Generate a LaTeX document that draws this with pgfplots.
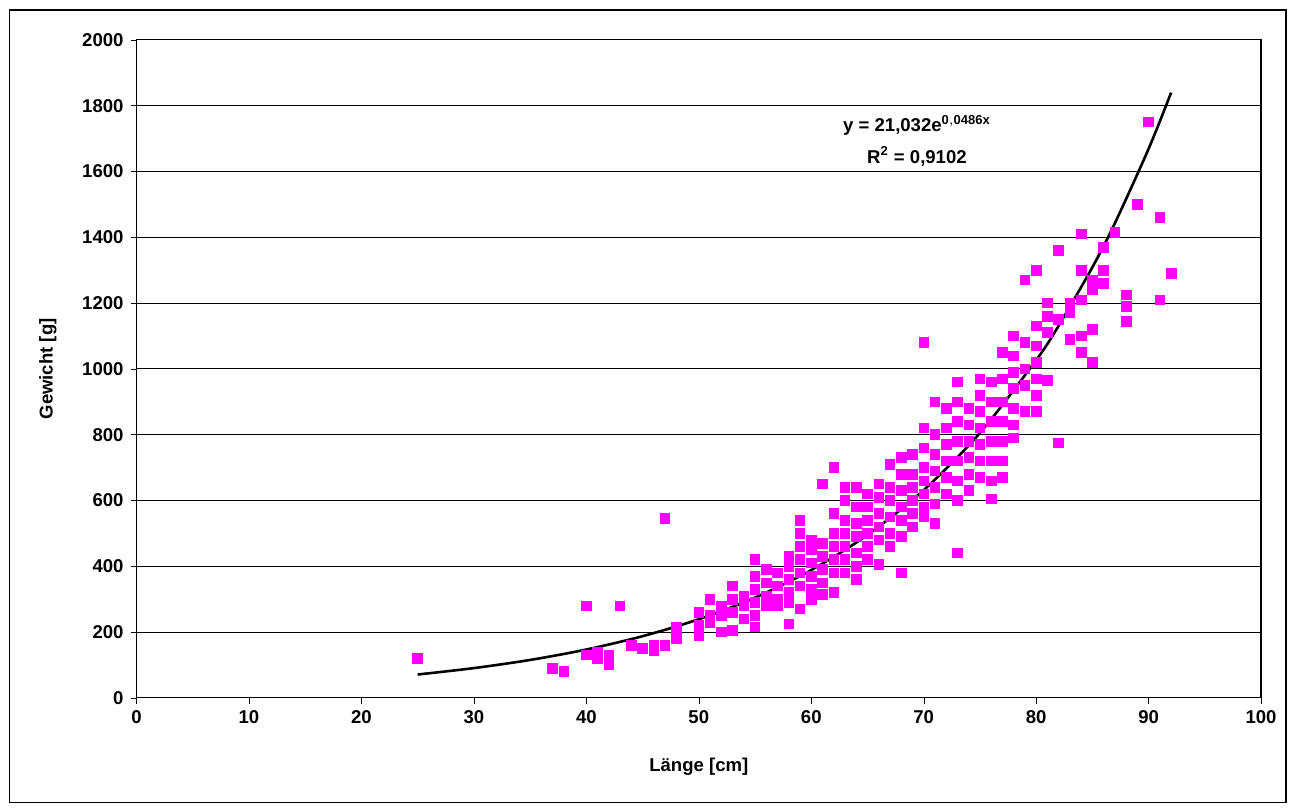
\documentclass[border=0pt]{standalone}
\usepackage{pgfplots}
\pgfplotsset{compat=1.18}
\usepackage{fontspec}
\setmainfont{Liberation Sans}
\definecolor{mag}{HTML}{FF00FF}
\begin{document}
\begin{tikzpicture}
\begin{axis}[
  scale only axis, width=564pt, height=330pt,
  xmin=0, xmax=100, ymin=0, ymax=2000,
  xtick={0,10,...,100}, ytick={0,200,...,2000},
  ymajorgrids, major grid style={black, line width=0.4pt},
  axis line style={black, line width=0.6pt},
  tick style={black}, tick align=outside, major tick length=3pt,
  xtick pos=bottom, ytick pos=left,
  ticklabel style={font=\fontsize{9.3}{11}\selectfont\bfseries},
  /pgf/number format/assume math mode=true,
  /pgf/number format/1000 sep={},
  xlabel={Länge [cm]}, ylabel={Gewicht [g]},
  label style={font=\fontsize{9.3}{11}\selectfont\bfseries},
  xlabel style={yshift=-10pt}, ylabel style={yshift=6pt},
  clip=false,
]
\path[use as bounding box] (rel axis cs:-0.1214,-0.1667) rectangle (rel axis cs:1.0284,1.0606);
\draw[black, line width=0.6pt] (rel axis cs:-0.1126,-0.159) rectangle (rel axis cs:1.0222,1.0455);
\addplot[only marks, mark=square*, mark size=2.4pt, mark options={fill=mag, draw=mag}] table {
25 120
37 90
38 80
40 280
40 130
41 140
41 120
42 130
42 100
43 280
44 160
45 150
46 160
46 145
47 545
47 160
48 215
48 180
48 200
50 260
50 190
50 220
51 300
51 250
51 230
52 280
52 200
52 250
53 340
53 300
53 260
53 205
54 310
54 280
54 240
55 420
55 370
55 330
55 290
55 250
55 215
56 390
56 350
56 310
56 280
57 380
57 340
57 300
57 280
58 430
58 400
58 360
58 320
58 290
58 225
59 540
59 500
59 460
59 420
59 380
59 340
59 270
60 480
60 450
60 410
60 370
60 330
60 300
61 650
61 470
61 430
61 390
61 350
61 315
62 700
62 560
62 500
62 460
62 420
62 380
62 320
63 640
63 600
63 540
63 500
63 460
63 420
63 380
64 640
64 580
64 530
64 490
64 440
64 400
64 360
65 620
65 580
65 540
65 500
65 460
65 420
66 650
66 610
66 560
66 520
66 480
66 405
67 710
67 640
67 600
67 550
67 500
67 460
68 730
68 680
68 630
68 580
68 540
68 490
68 380
69 740
69 680
69 640
69 600
69 560
69 520
70 1080
70 820
70 760
70 700
70 660
70 620
70 580
70 550
71 900
71 800
71 740
71 690
71 640
71 590
71 530
72 880
72 820
72 770
72 720
72 670
72 620
73 960
73 900
73 840
73 780
73 720
73 660
73 600
73 440
74 880
74 830
74 780
74 730
74 680
74 630
75 970
75 920
75 870
75 820
75 770
75 720
75 670
76 960
76 900
76 840
76 780
76 720
76 660
76 605
77 1050
77 970
77 900
77 840
77 780
77 720
77 670
78 1100
78 1040
78 990
78 940
78 880
78 830
78 790
79 1270
79 1080
79 1000
79 950
79 870
80 1300
80 1130
80 1070
80 1020
80 970
80 920
80 870
81 1200
81 1160
81 1110
81 965
82 1360
82 1150
82 775
83 1200
83 1170
83 1090
84 1410
84 1300
84 1210
84 1100
84 1050
85 1270
85 1240
85 1120
85 1020
86 1370
86 1300
86 1260
87 1415
88 1225
88 1190
88 1145
89 1500
90 1750
91 1460
91 1210
92 1290
};
\addplot[black, line width=1.3pt, smooth] coordinates {
(25,70.9) (30,90.4) (35,115.2) (40,146.9) (45,187.4) (50,238.9) (55,304.6) (60,388.4) (65,495.3) (70,631.5) (75,805.2) (80,1026.6) (82,1131) (85,1309) (87,1442.8) (90,1669) (92,1839.6)
};
\node[font=\fontsize{9.3}{11}\selectfont\bfseries] at (axis cs:69.4,1740) {y = 21,032e$^{\mathbf{0,0486x}}$};
\node[font=\fontsize{9.3}{11}\selectfont\bfseries] at (axis cs:69.4,1645) {R$^{\mathbf{2}}$ = 0,9102};
\end{axis}
\end{tikzpicture}
\end{document}
